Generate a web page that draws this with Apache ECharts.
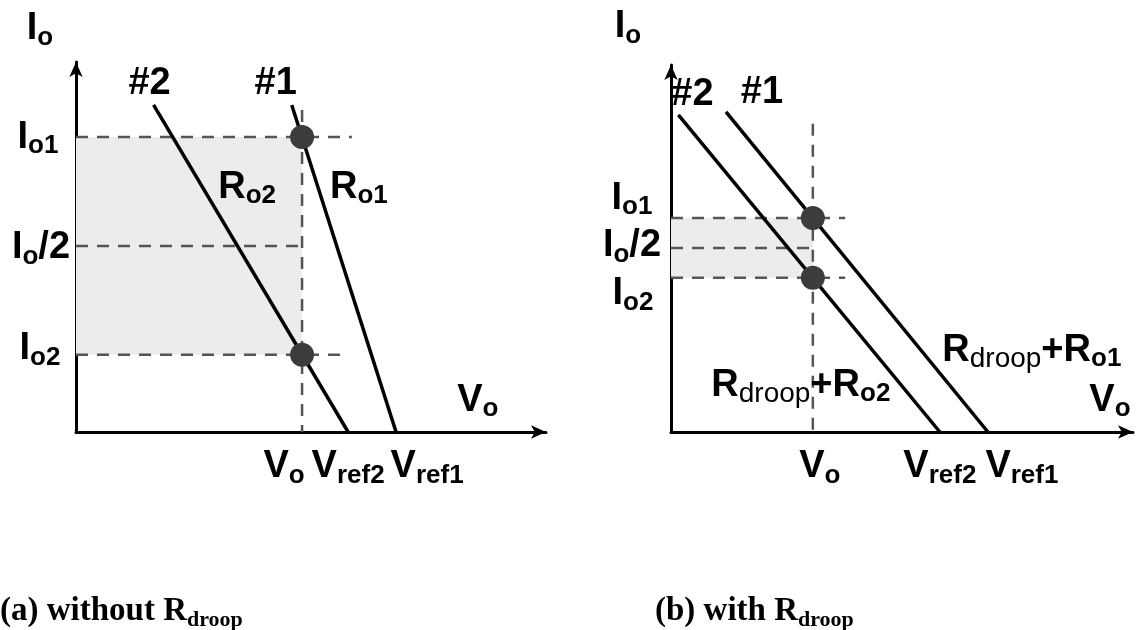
<!DOCTYPE html>
<html>
<head>
<meta charset="utf-8">
<script src="https://cdn.jsdelivr.net/npm/echarts@6/dist/echarts.min.js"></script>
<style>
  html, body { margin: 0; padding: 0; background: #fff; }
  #chart { width: 1146px; height: 630px; }
</style>
</head>
<body>
<div id="chart"></div>
<script>
// ---------------- data (schematic units, 0..100 on both axes) ----------------
// Panel (a): without R_droop — output lines of converter #1 and #2
const lineA1 = [[45.9, 88.4], [68.1, 0]];      // #1: top end, V_ref1 on the V axis
const lineA2 = [[16.5, 88.4], [57.9, 0]];      // #2: top end, V_ref2 on the V axis
const pointsA = [[48.1, 79.7], [48.1, 20.9]];  // (V_o, I_o1), (V_o, I_o2)
const guideEndA = [58.7, 57.7];                // right end of the I_o1 / I_o2 dashes
const voTopA = 87;                             // top of the V_o dashed guide

// Panel (b): with R_droop
const lineB1 = [[11.9, 87.2], [68.6, 0]];
const lineB2 = [[1.6, 86.4], [58.2, 0]];
const pointsB = [[30.7, 58.3], [30.7, 42.0]];
const guideEndB = [37.7, 37.7];
const voTopB = 84;

// Tick / curve texts
const yTickText = ['{m|I}{s|o1}', '{m|I}{s|o}{m|/2}', '{m|I}{s|o2}'];
const xTickText = ['{m|V}{s|o}', '{m|V}{s|ref2}', '{m|V}{s|ref1}'];
const axisTitleI = '{m|I}{s|o}';
const axisTitleV = '{m|V}{s|o}';
const curveNames = ['{m|#1}', '{m|#2}'];
const resistA = ['{m|R}{s|o1}', '{m|R}{s|o2}'];
const resistB = ['{m|R}{r|droop}{m|+R}{s|o1}', '{m|R}{r|droop}{m|+R}{s|o2}'];

// ---------------- styling ----------------
const SANS = '"Liberation Sans", Arial, sans-serif';
const SERIF = '"Liberation Serif", "Times New Roman", serif';
const rich = {
  m: { fontFamily: SANS, fontWeight: 'bold', fontSize: 38, lineHeight: 52, verticalAlign: 'middle', color: '#000' },
  s: { fontFamily: SANS, fontWeight: 'bold', fontSize: 26, lineHeight: 28, padding: [22, 0, 0, 0], verticalAlign: 'top', color: '#000' },
  r: { fontFamily: SANS, fontWeight: 'normal', fontSize: 28, lineHeight: 30, padding: [21, 0, 0, 0], verticalAlign: 'top', color: '#000' }
};

function buildPanel(g, P, L) {
  const vo = P.points[0][0], io1 = P.points[0][1], io2 = P.points[1][1];
  const ioHalf = (io1 + io2) / 2;
  const vref1 = P.line1[1][0], vref2 = P.line2[1][0];
  const ax = { xAxisIndex: g, yAxisIndex: g };
  const dashed = (data) => Object.assign({
    type: 'line', data, symbol: 'none', silent: true, z: 2,
    lineStyle: { color: '#555555', width: 2.5, type: [12, 9] }
  }, ax);

  const notes = [
    { t: axisTitleI, at: [0, 100], off: L.titleI },
    { t: yTickText[0], at: [0, io1], off: L.io1 },
    { t: yTickText[1], at: [0, ioHalf], off: L.ioHalf },
    { t: yTickText[2], at: [0, io2], off: L.io2 },
    { t: curveNames[0], at: P.line1[0], off: L.n1 },
    { t: curveNames[1], at: P.line2[0], off: L.n2 },
    { t: P.res[0], at: L.r1, off: [0, 0] },
    { t: P.res[1], at: L.r2, off: [0, 0] },
    { t: axisTitleV, at: L.titleV, off: [0, 0] },
    { t: xTickText[0], at: [vo, 0], off: L.vo },
    { t: xTickText[1], at: [vref2, 0], off: L.vref2 },
    { t: xTickText[2], at: [vref1, 0], off: L.vref1 }
  ];

  return [
    // shaded band between I_o2 and I_o1
    Object.assign({
      type: 'line', data: [[0, io2]], symbol: 'none', silent: true, z: 1,
      lineStyle: { opacity: 0 },
      markArea: { silent: true, itemStyle: { color: '#ececec', opacity: 1 },
        data: [[{ xAxis: 0, yAxis: io2 }, { xAxis: vo, yAxis: io1 }]] }
    }, ax),
    dashed([[0, io1], [P.guideEnd[0], io1]]),
    dashed([[0, ioHalf], [vo, ioHalf]]),
    dashed([[0, io2], [P.guideEnd[1], io2]]),
    dashed([[vo, P.voTop], [vo, 0]]),
    Object.assign({ type: 'line', data: P.line1, symbol: 'none', silent: true, z: 3,
      lineStyle: { color: '#000', width: 3.5 } }, ax),
    Object.assign({ type: 'line', data: P.line2, symbol: 'none', silent: true, z: 3,
      lineStyle: { color: '#000', width: 3.5 } }, ax),
    Object.assign({ type: 'scatter', data: P.points, symbolSize: 24, silent: true, z: 4,
      itemStyle: { color: '#3c3c3c', opacity: 1 } }, ax),
    Object.assign({
      type: 'scatter', symbolSize: 0, silent: true, clip: false, z: 5,
      itemStyle: { opacity: 1 },
      label: { show: true, position: 'inside', color: '#000', textBorderWidth: 0, rich },
      data: notes.map(n => ({ value: n.at, label: { formatter: n.t, offset: n.off } }))
    }, ax)
  ];
}

const axisLineStyle = {
  show: true, onZero: false, symbol: ['none', 'arrow'], symbolSize: [10, 15],
  lineStyle: { color: '#000', width: 3 }
};
const makeAxis = (g) => ({
  type: 'value', gridIndex: g, min: 0, max: 100,
  axisLine: axisLineStyle, axisTick: { show: false }, axisLabel: { show: false },
  splitLine: { show: false }
});

const series = [].concat(
  buildPanel(0,
    { line1: lineA1, line2: lineA2, points: pointsA, guideEnd: guideEndA, voTop: voTopA, res: resistA },
    { titleI: [-36, -33], io1: [-38, 0], ioHalf: [-35, 2], io2: [-36, -6],
      n1: [-16, -21], n2: [-4, -21], r1: [60.2, 66.2], r2: [36.4, 66.2], titleV: [85.5, 8.6],
      vo: [-18, 35], vref2: [0, 35], vref1: [31, 35] }),
  buildPanel(1,
    { line1: lineB1, line2: lineB2, points: pointsB, guideEnd: guideEndB, voTop: voTopB, res: resistB },
    { titleI: [-43, -38], io1: [-39, -20], ioHalf: [-39, -2], io2: [-38, 16],
      n1: [36, -19], n2: [14, -20], r1: [78.1, 22.3], r2: [28.1, 12.8], titleV: [95.0, 8.7],
      vo: [7, 35], vref2: [0, 35], vref1: [34, 35] })
);

const captionStyle = {
  fontFamily: SERIF, fontWeight: 'bold', fontSize: 33, lineHeight: 40, color: '#000',
  rich: { s: { fontFamily: SERIF, fontWeight: 'bold', fontSize: 22, lineHeight: 22, verticalAlign: 'bottom', color: '#000' } }
};

const chart = echarts.init(document.getElementById('chart'));
chart.setOption({
  animation: false,
  backgroundColor: '#fff',
  title: [
    { text: '(a) without R{s|droop}', left: 0, top: 591, padding: 0, textStyle: captionStyle },
    { text: '(b) with R{s|droop}', left: 655, top: 591, padding: 0, textStyle: captionStyle }
  ],
  grid: [
    { left: 76, top: 62, width: 470, height: 370 },
    { left: 671, top: 65, width: 462, height: 367 }
  ],
  xAxis: [makeAxis(0), makeAxis(1)],
  yAxis: [makeAxis(0), makeAxis(1)],
  series
});
</script>
</body>
</html>
